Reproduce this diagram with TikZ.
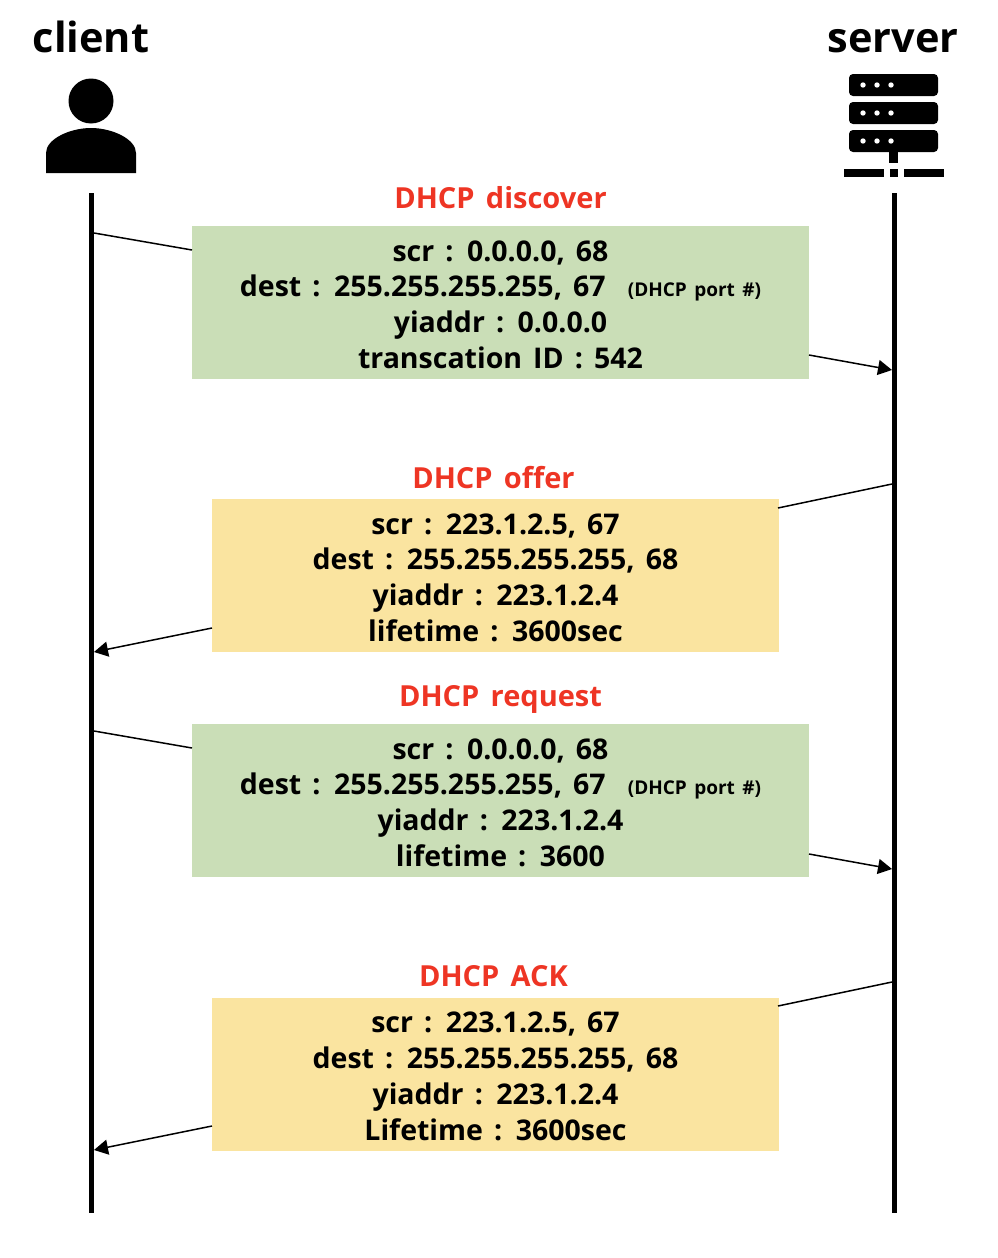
\documentclass[tikz,border=0pt]{standalone}
\usepackage{fontspec}
\usepackage{xcolor}
\setmainfont[WordSpace=1.5]{Open Sans}
\usetikzlibrary{positioning, arrows.meta}

\definecolor{msggreen}{HTML}{CADEB7}
\definecolor{msgyellow}{HTML}{FAE4A0}
\definecolor{msgred}{HTML}{EE3524}
\newcommand{\msgstrut}{\rule{0pt}{25pt}}

\begin{document}
\begin{tikzpicture}[
                x=1pt, y=-1pt,
                node distance=10pt,
                role/.style={font=\fontsize{41.5}{48}\selectfont\bfseries, inner sep=0pt, anchor=base},
                lifeline/.style={line width=5pt},
                msgbox/.style={inner sep=0pt, minimum height=153pt, align=center, text=black,
                    font=\fontsize{28.5}{35.8}\selectfont\bfseries},
                widebox/.style={msgbox, fill=msggreen, minimum width=617pt},
                narrowbox/.style={msgbox, fill=msgyellow, minimum width=567pt},
                msgname/.style={font=\fontsize{29}{32}\selectfont\bfseries, text=msgred, inner sep=0pt,
                    text height=22pt, text depth=7pt},
                wire/.style={line width=1.5pt},
                tipwire/.style={wire, -{Triangle[length=14pt, width=15pt]}}
            ]
                \useasboundingbox (0,0) rectangle (998,1258);

                % people at the top
                \node[role] (client) at (91,52) {client};
                \node[role] (server) at (893,52) {server};

                \fill (91,101) circle (22.5);
                \fill (46,173) -- (46,153) .. controls (46,139) and (70,128) .. (91,128)
                    .. controls (112,128) and (136,139) .. (136,153) -- (136,173) -- cycle;

                \foreach \y in {74,102,130} {
                    \fill[rounded corners=4pt] (849,\y) rectangle (938,\y+22);
                    \foreach \x in {863,877,891}
                        \fill[white] (\x,\y+11) circle (2.7);
                }
                \fill (889,152) rectangle (898,163);
                \fill (844,169) rectangle (884,177);
                \fill (890,169) rectangle (898,177);
                \fill (904,169) rectangle (944,177);

                % life lines
                \coordinate (clienttop) at (91.8,193);
                \coordinate (clientend) at (91.8,1213);
                \coordinate (servertop) at (894,193);
                \coordinate (serverend) at (894,1213);
                \draw[lifeline] (clienttop) -- (clientend);
                \draw[lifeline] (servertop) -- (serverend);

                % messages
                \node[widebox] (discover) at (500.5,302.5) {\msgstrut scr : 0.0.0.0, 68\\
                    dest : 255.255.255.255, 67 \ {\fontsize{19}{20}\selectfont (DHCP port \#)}\\
                    yiaddr : 0.0.0.0\\transcation ID : 542};
                \node[narrowbox] (offer) at (495.5,575.5) {\msgstrut scr : 223.1.2.5, 67\\
                    dest : 255.255.255.255, 68\\yiaddr : 223.1.2.4\\lifetime : 3600sec};
                \node[widebox] (request) at (500.5,800.5) {\msgstrut scr : 0.0.0.0, 68\\
                    dest : 255.255.255.255, 67 \ {\fontsize{19}{20}\selectfont (DHCP port \#)}\\
                    yiaddr : 223.1.2.4\\lifetime : 3600};
                \node[narrowbox] (ack) at (495.5,1074) {\msgstrut scr : 223.1.2.5, 67\\
                    dest : 255.255.255.255, 68\\yiaddr : 223.1.2.4\\Lifetime : 3600sec};

                \node[msgname] [above=of discover] {DHCP discover};
                \node[msgname] [above=3pt of offer, xshift=-2pt] {DHCP offer};
                \node[msgname] [above=of request] {DHCP request};
                \node[msgname] [above=4pt of ack, xshift=-2pt] {DHCP ACK};

                % ends of the connectors
                \coordinate (a1) at (94,233);   \coordinate (a2) at (192,250);
                \coordinate (a3) at (809,355);  \coordinate (a4) at (892,370);
                \coordinate (b1) at (892,484);  \coordinate (b2) at (778,508);
                \coordinate (b3) at (212,628);  \coordinate (b4) at (94,652);
                \coordinate (c1) at (94,731);   \coordinate (c2) at (192,748);
                \coordinate (c3) at (809,854);  \coordinate (c4) at (892,869);
                \coordinate (d1) at (892,982);  \coordinate (d2) at (778,1006);
                \coordinate (d3) at (212,1126); \coordinate (d4) at (94,1150);

                \draw[wire] (a1) -- (a2);
                \draw[tipwire] (a3) -- (a4);
                \draw[wire] (b1) -- (b2);
                \draw[tipwire] (b3) -- (b4);
                \draw[wire] (c1) -- (c2);
                \draw[tipwire] (c3) -- (c4);
                \draw[wire] (d1) -- (d2);
                \draw[tipwire] (d3) -- (d4);
            \end{tikzpicture}
\end{document}
